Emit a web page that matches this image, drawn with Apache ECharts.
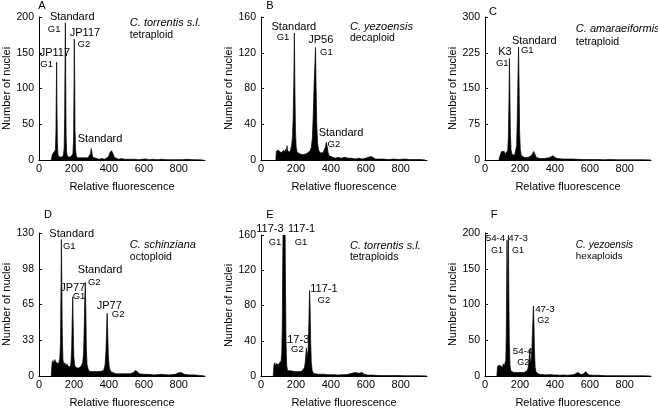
<!DOCTYPE html>
<html><head><meta charset="utf-8">
<script src="https://cdn.jsdelivr.net/npm/echarts@6/dist/echarts.min.js"></script>
<style>html,body{margin:0;padding:0;background:#fff}#c{width:658px;height:409px}</style>
</head><body><div id="c"></div>
<script>
// ---------- DATA (relative fluorescence channel, number of nuclei) ----------
const histA = [[70,0],[75,6],[80,9],[85,7],[90,10],[94,14],[97,40],[99,95],[101,137],[103,70],[105,25],[108,9],[112,5],[118,6],[124,4],[130,6],[136,5],[140,8],[144,16],[147,60],[149,140],[151,192],[153,110],[155,35],[158,10],[163,5],[170,6],[176,4],[182,5],[188,6],[194,9],[198,30],[200,90],[202,169],[204,120],[206,45],[209,15],[213,6],[220,3],[230,2],[240,3],[250,2],[260,3],[270,2],[280,3],[290,5],[295,9],[299,16],[303,10],[307,4],[315,2],[330,2],[345,1],[360,2],[375,1],[390,3],[400,6],[405,10],[410,12],[415,13],[420,11],[425,8],[430,4],[440,2],[455,1],[470,2],[490,1],[510,1],[530,1],[550,1],[570,0.5],[590,1],[610,1.5],[630,0.5],[650,1],[680,0.5],[700,1],[730,0.5],[760,0.5],[790,0.5],[820,0.5],[850,1],[880,0.5],[910,0.3],[940,0]];
const histB = [[85,0],[88,10],[92,12],[96,8],[100,11],[105,9],[110,12],[115,8],[120,10],[125,9],[130,11],[135,8],[140,12],[145,9],[149,16],[152,10],[156,9],[160,11],[165,9],[170,12],[175,16],[180,25],[184,45],[188,90],[191,142],[194,80],[197,35],[201,15],[206,9],[212,8],[220,7],[230,9],[240,6],[250,8],[260,7],[270,8],[280,10],[288,14],[294,25],[299,50],[304,85],[309,110],[312,126],[315,85],[319,40],[324,18],[330,11],[338,8],[346,7],[355,8],[362,10],[368,14],[374,20],[379,15],[384,8],[390,5],[400,3],[410,3],[425,2],[440,3],[460,2],[480,3],[500,2],[520,2],[540,1],[560,2],[580,1],[600,2],[615,3],[628,4],[640,3],[655,1],[680,1],[700,1],[730,0.5],[760,1],[790,0.5],[820,1],[850,0.5],[880,0.5],[910,0.5],[940,0]];
const histC = [[80,0],[85,8],[90,12],[95,18],[100,20],[105,15],[110,18],[115,12],[120,10],[125,12],[130,20],[134,50],[137,120],[140,213],[142,150],[145,60],[149,22],[153,12],[158,10],[164,8],[170,10],[176,14],[181,30],[185,90],[189,180],[192,237],[195,160],[198,60],[202,22],[207,10],[215,6],[225,5],[235,6],[245,5],[255,7],[265,9],[272,13],[279,18],[286,12],[293,6],[305,4],[320,3],[340,3],[355,4],[370,5],[380,8],[388,9],[395,7],[405,4],[420,3],[440,2],[470,2],[500,2],[530,1.5],[560,1],[600,1],[640,1],[680,0.5],[720,1],[760,0.5],[800,0.5],[840,0.5],[880,0.5],[920,0.3],[950,0]];
const histD = [[70,0],[75,12],[80,14],[85,11],[90,15],[95,13],[100,12],[105,14],[110,11],[115,13],[119,16],[123,30],[126,80],[128,124],[130,95],[133,40],[137,15],[142,10],[148,12],[154,9],[160,11],[166,9],[172,10],[178,8],[183,12],[187,25],[190,50],[193,72],[196,45],[199,18],[204,10],[210,8],[218,9],[226,7],[234,8],[242,9],[250,12],[255,20],[259,45],[262,70],[265,85],[268,60],[271,25],[275,10],[282,6],[290,4],[300,3],[310,4],[320,3],[330,4],[340,3],[350,4],[360,3],[370,5],[378,10],[383,22],[387,42],[390,57],[393,40],[397,18],[402,8],[410,4],[420,3],[440,2],[460,2],[480,2],[500,2],[520,2],[540,3],[550,5],[556,6],[562,4],[575,2],[600,1.5],[630,1.5],[660,1],[700,1.5],[740,1],[780,1.5],[800,3],[810,4],[818,3],[830,1.5],[860,1],[890,1],[920,0.5],[950,0]];
const histE = [[70,0],[74,12],[78,15],[82,11],[86,14],[90,12],[95,16],[100,13],[105,15],[110,12],[115,17],[119,25],[122,60],[124,120],[126,160],[129,160],[132,160],[135,160],[138,160],[140,110],[143,40],[147,12],[152,6],[160,5],[170,6],[180,4],[190,5],[200,4],[210,5],[220,4],[230,5],[240,6],[248,9],[253,15],[257,25],[260,32],[263,20],[266,18],[270,30],[274,60],[278,97],[281,80],[284,40],[288,15],[293,6],[300,3],[310,3],[325,2],[340,2],[360,2],[380,1.5],[400,1.5],[420,1.5],[440,1],[460,1.5],[480,1.5],[500,2],[520,3],[530,5],[540,4],[550,2],[560,3],[570,5],[578,4],[590,2],[610,1],[640,1],[670,0.5],[700,0.5],[740,0.5],[780,0.5],[820,0.3],[860,0.3],[900,0.3],[950,0]];
const histF = [[68,0],[72,14],[76,16],[80,12],[85,15],[90,13],[95,16],[100,12],[105,17],[110,14],[115,16],[119,22],[122,60],[124,130],[126,190],[128,150],[130,80],[132,120],[134,197],[136,130],[139,50],[143,15],[148,7],[155,6],[165,5],[175,6],[185,5],[195,4],[205,5],[215,4],[225,5],[235,6],[243,8],[249,14],[253,25],[256,37],[259,22],[263,18],[268,35],[273,70],[277,98],[280,75],[283,35],[287,12],[293,5],[300,3],[315,2],[330,2],[350,1.5],[370,2],[390,1.5],[410,1.5],[430,1],[450,1.5],[470,1],[490,1.5],[510,2],[520,3],[530,5],[538,4],[550,2],[565,3],[575,6],[582,4],[595,1.5],[620,1],[650,1],[690,0.5],[730,0.5],[770,0.5],[810,0.3],[850,0.3],[900,0.3],[950,0]];

const yMaxes = [200, 160, 300, 130, 160, 200];
const yIntervals = [50, 40, 75, 32.5, 40, 50];
const xTickLabels = ['0', '200', '400', '600', '800'];
const panelLetters = ['A', 'B', 'C', 'D', 'E', 'F'];
const speciesNames = ['C. torrentis s.l.', 'C. yezoensis', 'C. amaraeiformis', 'C. schinziana', 'C. torrentis s.l.', 'C. yezoensis'];
const ploidy = ['tetraploid', 'decaploid', 'tetraploid', 'octoploid', 'tetraploids', 'hexaploids'];
const peakNames = [
  ['Standard', 'G1', 'JP117', 'G2', 'JP117', 'G1', 'Standard'],
  ['Standard', 'G1', 'JP56', 'G1', 'Standard', 'G2'],
  ['Standard', 'G1', 'K3', 'G1'],
  ['Standard', 'G1', 'Standard', 'G2', 'JP77', 'G1', 'JP77', 'G2'],
  ['117-3', '117-1', 'G1', 'G1', '117-1', 'G2', '117-3', 'G2'],
  ['54-4', 'G1', '47-3', 'G1', '47-3', 'G2', '54-4', 'G2']
];
const hists = [histA, histB, histC, histD, histE, histF];

// ---------- LAYOUT ----------
const FONT = "'Liberation Sans', Arial, Helvetica, sans-serif";
const grids = [
  {left: 39, top: 17, width: 166, height: 143},
  {left: 261, top: 17, width: 166, height: 143},
  {left: 485, top: 17, width: 166, height: 143},
  {left: 39, top: 233, width: 166, height: 144},
  {left: 261, top: 235, width: 166, height: 143},
  {left: 485, top: 233, width: 166, height: 144}
];
// anchor (data coords) of each peak label, text centre
const peakAnchors = [
  [[190,200],[87,183],[263,177],[257,162],[91,149],[44,134],[349,30]],
  [[188,149],[126,137],[342,134],[374,120],[458,30],[417,17]],
  [[282,250],[242,229],[114,227],[99,203]],
  [[187,129],[173,118],[349,96],[316,85],[193,80],[229,72],[402,64],[453,56]],
  [[51,167],[232,167],[80,152],[229,152],[360,99],[360,86],[198,41],[208,30]],
  [[60,192],[68,176],[189,192],[189,176],[343,93],[333,78],[215,34],[219,19]]
];
const bigFont = [11, 11, 11, 11, 11, 9.8];
const smallFont = [9.5, 9.5, 9.5, 9.5, 9.5, 9];
const speciesAnchors = [[520,191,175],[509,149,136],[520,276,247],[520,119,108],[509,148,135],[520,183,167]];
const letterPos = [[42,6],[270,6],[493,12],[48,215],[270,215],[494,215]];

const chart = echarts.init(document.getElementById('c'), null, {renderer: 'canvas'});
const option = {
  animation: false,
  backgroundColor: '#fff',
  grid: grids.map(g => Object.assign({containLabel: false}, g)),
  xAxis: grids.map((g, i) => ({
    type: 'value', gridIndex: i, min: 0, max: 950, interval: 200,
    name: 'Relative fluorescence', nameLocation: 'middle', nameGap: 21,
    nameTextStyle: {fontFamily: FONT, fontSize: 11, color: '#000'},
    axisLine: {show: true, lineStyle: {color: '#000', width: 1}},
    axisTick: {show: false},
    splitLine: {show: false},
    axisLabel: {fontFamily: FONT, fontSize: 11, color: '#000', margin: 3, showMaxLabel: false,
      formatter: v => { const k = Math.round(v / 200); return xTickLabels[k] !== undefined && v % 200 === 0 ? xTickLabels[k] : ''; }}
  })),
  yAxis: grids.map((g, i) => ({
    type: 'value', gridIndex: i, min: 0, max: yMaxes[i], interval: yIntervals[i],
    name: 'Number of nuclei', nameLocation: 'middle', nameGap: 27,
    nameTextStyle: {fontFamily: FONT, fontSize: 11, color: '#000'},
    axisLine: {show: true, lineStyle: {color: '#000', width: 1}},
    axisTick: {show: true, inside: true, length: 3, lineStyle: {color: '#000'}},
    splitLine: {show: false},
    axisLabel: {fontFamily: FONT, fontSize: 10.5, color: '#000', margin: 5, formatter: v => String(Math.round(v))}
  })),
  series: hists.map((h, i) => ({
    type: 'line', xAxisIndex: i, yAxisIndex: i, data: h,
    symbol: 'none', showSymbol: false, smooth: false,
    lineStyle: {color: '#000', width: 0.7},
    areaStyle: {color: '#000', opacity: 1},
    clip: true
  }))
};
chart.setOption(option);

const graphics = [];
letterPos.forEach((p, i) => {
  graphics.push({type: 'text', x: p[0], y: p[1], style: {text: panelLetters[i], fontFamily: FONT, fontSize: 11, fill: '#000', align: 'center', verticalAlign: 'middle'}});
});
peakAnchors.forEach((list, i) => {
  list.forEach((a, j) => {
    const px = chart.convertToPixel({gridIndex: i}, a);
    const t = peakNames[i][j];
    const small = /^G\d$/.test(t);
    graphics.push({type: 'text', x: px[0], y: px[1], style: {text: t, fontFamily: FONT, fontSize: small ? smallFont[i] : bigFont[i], fill: '#000', align: 'center', verticalAlign: 'middle'}});
  });
});
speciesAnchors.forEach((a, i) => {
  const p1 = chart.convertToPixel({gridIndex: i}, [a[0], a[1]]);
  const p2 = chart.convertToPixel({gridIndex: i}, [a[0], a[2]]);
  const fsI = i === 5 ? 10 : 11;
  const fsR = i === 5 ? 9.8 : 10.5;
  graphics.push({type: 'text', x: p1[0], y: p1[1], style: {text: speciesNames[i], fontFamily: FONT, fontSize: fsI, fontStyle: 'italic', fill: '#000', align: 'left', verticalAlign: 'middle'}});
  graphics.push({type: 'text', x: p2[0], y: p2[1], style: {text: ploidy[i], fontFamily: FONT, fontSize: fsR, fill: '#000', align: 'left', verticalAlign: 'middle'}});
});
chart.setOption({graphic: graphics});
</script></body></html>
